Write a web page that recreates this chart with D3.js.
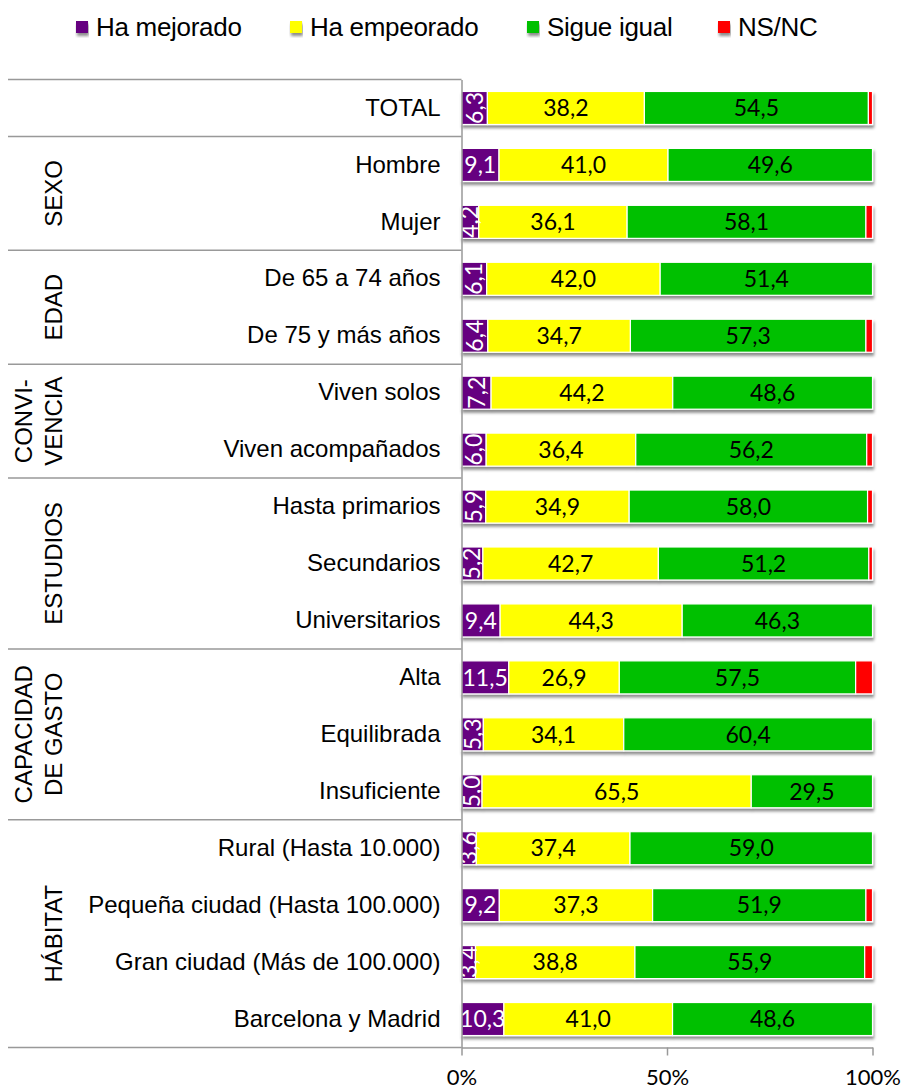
<!DOCTYPE html>
<html>
<head>
<meta charset="utf-8">
<script src="https://cdnjs.cloudflare.com/ajax/libs/d3/7.8.5/d3.min.js"></script>
<style>
  body { margin: 0; background: #fff; }
  .cat text { font-family: "Liberation Sans", Arial, sans-serif; font-size: 24px; fill: #000; }
  .lbl { font-family: Lato, Carlito, Calibri, sans-serif; font-size: 23px; }
</style>
</head>
<body>
<div class="canvas"></div>
<script>
// chart data
const categories = [
  "TOTAL", "Hombre", "Mujer", "De 65 a 74 años", "De 75 y más años",
  "Viven solos", "Viven acompañados", "Hasta primarios", "Secundarios",
  "Universitarios", "Alta", "Equilibrada", "Insuficiente",
  "Rural (Hasta 10.000)", "Pequeña ciudad (Hasta 100.000)",
  "Gran ciudad (Más de 100.000)", "Barcelona y Madrid"
];
const mejorado = [6.3, 9.1, 4.2, 6.1, 6.4, 7.2, 6.0, 5.9, 5.2, 9.4, 11.5, 5.3, 5.0, 3.6, 9.2, 3.4, 10.3];
const empeorado = [38.2, 41.0, 36.1, 42.0, 34.7, 44.2, 36.4, 34.9, 42.7, 44.3, 26.9, 34.1, 65.5, 37.4, 37.3, 38.8, 41.0];
const igual = [54.5, 49.6, 58.1, 51.4, 57.3, 48.6, 56.2, 58.0, 51.2, 46.3, 57.5, 60.4, 29.5, 59.0, 51.9, 55.9, 48.6];
const nsnc = [1.0, 0, 1.6, 0, 1.6, 0, 1.4, 1.2, 0.9, 0, 4.1, 0, 0, 0, 1.6, 1.9, 0];

const seriesNames = ["Ha mejorado", "Ha empeorado", "Sigue igual", "NS/NC"];
const groupLabels = [[], ["SEXO"], ["EDAD"], ["CONVI-", "VENCIA"], ["ESTUDIOS"], ["CAPACIDAD", "DE GASTO"], ["HÁBITAT"]];
const groupSizes = [1, 2, 2, 2, 3, 3, 4];
const xTicks = [0, 0.5, 1];

const colors = ["#660080", "#ffff00", "#00c000", "#ff0000"];
const keys = ["m", "e", "i", "n"];

// dimensions
const w = 905;
const h = 1091;
const plotLeft = 461.5;
const plotRight = 872.5;
const plotTop = 79.5;
const plotBottom = 1047.5;

const svg = d3.select(".canvas").append("svg").attr("width", w).attr("height", h);

// shadow under bars
const defs = svg.append("defs");
const shadow = defs.append("filter").attr("id", "shadow")
  .attr("x", "-5%").attr("y", "-20%").attr("width", "110%").attr("height", "160%");
shadow.append("feDropShadow")
  .attr("dx", 1).attr("dy", 3).attr("stdDeviation", 1.8)
  .attr("flood-color", "#000").attr("flood-opacity", 0.45);

const rows = categories.map((c, i) => ({ cat: c, m: mejorado[i], e: empeorado[i], i: igual[i], n: nsnc[i] }));

const stack = d3.stack().keys(keys).offset(d3.stackOffsetExpand);
const series = stack(rows);

const x = d3.scaleLinear().domain([0, 1]).range([plotLeft, plotRight]);
const y = d3.scaleBand().domain(categories).range([plotTop, plotBottom]).paddingInner(0.42).paddingOuter(0.21);

// group separator lines
let k = 0;
const bounds = [0];
groupSizes.forEach((s) => { k += s; bounds.push(k); });
const step = y.step();
svg.append("g").selectAll("line").data(bounds).join("line")
  .attr("x1", 8).attr("x2", plotLeft)
  .attr("y1", (d) => plotTop + d * step).attr("y2", (d) => plotTop + d * step)
  .attr("stroke", "#999").attr("stroke-width", 1.5);

// group labels (rotated)
groupLabels.forEach((lines, gi) => {
  if (!lines.length) return;
  const yc = plotTop + (bounds[gi] + bounds[gi + 1]) / 2 * step;
  const g = svg.append("g").attr("transform", `translate(62, ${yc}) rotate(-90)`);
  lines.forEach((t, li) => {
    g.append("text")
      .attr("x", 0).attr("y", (li - (lines.length - 1)) * 30)
      .attr("text-anchor", "middle")
      .attr("font-family", "'Liberation Sans', Arial, sans-serif")
      .attr("font-size", 24)
      .text(t);
  });
});

// bars
const barG = svg.append("g");
const rowG = barG.selectAll("g.row").data(rows).join("g")
  .attr("class", "row")
  .attr("filter", "url(#shadow)");

rowG.each(function (d, ri) {
  const g = d3.select(this);
  series.forEach((s, si) => {
    const v = s[ri];
    if (v[1] - v[0] <= 0) return;
    g.append("rect")
      .attr("x", x(v[0]))
      .attr("y", y(d.cat))
      .attr("width", x(v[1]) - x(v[0]))
      .attr("height", y.bandwidth())
      .attr("fill", colors[si])
      .attr("stroke", "#fff")
      .attr("stroke-width", 1.2);
  });
});

// value labels
const lblG = svg.append("g");
rows.forEach((d, ri) => {
  const yc = y(d.cat) + y.bandwidth() / 2;
  series.slice(0, 3).forEach((s, si) => {
    const v = s[ri];
    const xc = x((v[0] + v[1]) / 2);
    const val = d[keys[si]];
    const txt = d3.format(".1f")(val).replace(".", ",");
    const narrow = si === 0 && val < 9;
    lblG.append("text")
      .attr("class", "lbl")
      .attr("transform", narrow ? `translate(${xc}, ${yc}) rotate(-90)` : `translate(${xc}, ${yc})`)
      .attr("text-anchor", "middle")
      .attr("dy", "0.36em")
      .attr("fill", si === 0 ? "#fff" : "#000")
      .text(txt);
  });
});

// y axis (category labels)
const yAxis = d3.axisLeft(y).tickSize(0).tickPadding(21);
svg.append("g").attr("class", "cat")
  .attr("transform", `translate(${plotLeft}, 0)`)
  .call(yAxis)
  .call((g) => g.select(".domain").attr("stroke", "#999").attr("stroke-width", 1.5))
  .call((g) => g.selectAll("text").attr("font-family", null).attr("font-size", null));

// x axis
const xAxis = d3.axisBottom(x).tickValues(xTicks).tickFormat(d3.format(".0%")).tickSize(8).tickSizeOuter(0);
svg.append("g")
  .attr("transform", `translate(0, ${plotBottom})`)
  .call(xAxis)
  .call((g) => g.select(".domain").attr("stroke", "#999").attr("stroke-width", 1.5))
  .call((g) => g.selectAll(".tick line").attr("stroke", "#999").attr("stroke-width", 1.5))
  .call((g) => g.selectAll("text")
    .attr("font-family", "Lato, Carlito, Calibri, sans-serif")
    .attr("font-size", 22)
    .attr("fill", "#000")
    .attr("y", 22));

// legend
const legendX = [76, 290, 527, 718];
const legend = svg.append("g");
seriesNames.forEach((name, i) => {
  legend.append("rect")
    .attr("x", legendX[i]).attr("y", 21).attr("width", 12).attr("height", 12)
    .attr("fill", colors[i])
    .attr("filter", "url(#shadow)");
  legend.append("text")
    .attr("x", legendX[i] + 20).attr("y", 36)
    .attr("font-family", "'Liberation Sans', Arial, sans-serif")
    .attr("font-size", 26)
    .attr("letter-spacing", -0.3)
    .text(name);
});
</script>
</body>
</html>
